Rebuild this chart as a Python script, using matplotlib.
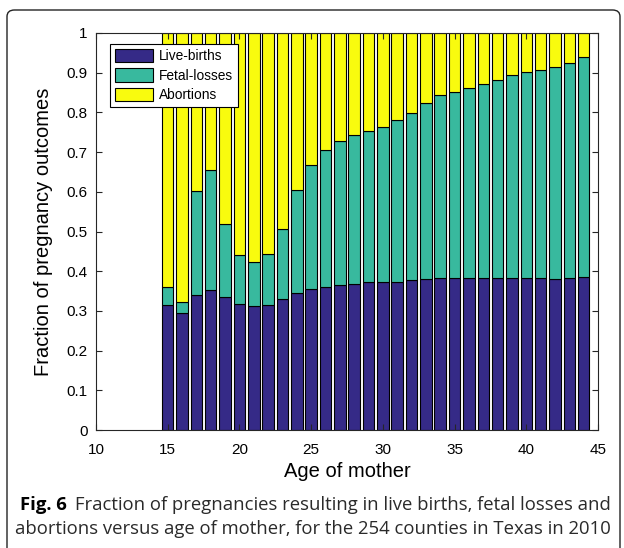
import numpy as np
import matplotlib
matplotlib.use("Agg")
from matplotlib import pyplot as plt
from matplotlib import font_manager
from matplotlib.patches import FancyBboxPatch

ages = list(range(15, 45))
live_births = [0.315, 0.295, 0.340, 0.353, 0.334, 0.317, 0.313, 0.316, 0.330, 0.345,
               0.354, 0.361, 0.365, 0.369, 0.372, 0.372, 0.374, 0.377, 0.380, 0.384,
               0.384, 0.383, 0.383, 0.383, 0.383, 0.383, 0.382, 0.381, 0.382, 0.385]
fetal_losses = [0.046, 0.028, 0.263, 0.302, 0.185, 0.125, 0.109, 0.127, 0.176, 0.259,
                0.313, 0.344, 0.364, 0.374, 0.382, 0.392, 0.407, 0.421, 0.443, 0.460,
                0.467, 0.478, 0.488, 0.499, 0.511, 0.520, 0.525, 0.533, 0.542, 0.555]
abortions = [0.639, 0.677, 0.397, 0.345, 0.481, 0.558, 0.578, 0.557, 0.494, 0.396,
             0.333, 0.295, 0.271, 0.257, 0.246, 0.236, 0.219, 0.202, 0.177, 0.156,
             0.149, 0.139, 0.129, 0.118, 0.106, 0.097, 0.093, 0.086, 0.076, 0.060]
series_names = ["Live-births", "Fetal-losses", "Abortions"]
colors = ["#352a87", "#38b99e", "#f9fb0e"]
xticks = [10, 15, 20, 25, 30, 35, 40, 45]
yticks = [0, 0.1, 0.2, 0.3, 0.4, 0.5, 0.6, 0.7, 0.8, 0.9, 1]
ytick_labels = ["0", "0.1", "0.2", "0.3", "0.4", "0.5", "0.6", "0.7", "0.8", "0.9", "1"]

plt.rcParams['font.family'] = ['Liberation Sans', 'DejaVu Sans']

W, H = 624, 548
fig = plt.figure(figsize=(W / 100, H / 100), dpi=100)

# panel border with rounded corners (runs off the bottom of the image)
border = FancyBboxPatch((7 / W, -0.05), 613 / W, 1.05 - 10 / H,
                        boxstyle="round,pad=0,rounding_size=0.012",
                        transform=fig.transFigure, facecolor="none",
                        edgecolor="#222222", linewidth=1.0, clip_on=False)
fig.patches.append(border)

ax = fig.add_axes([96 / W, 1 - 430 / H, (598 - 96) / W, (430 - 33) / H])

bottom = np.zeros(len(ages))
for name, vals, c in zip(series_names, [live_births, fetal_losses, abortions], colors):
    ax.bar(ages, vals, width=0.8, bottom=bottom, color=c, edgecolor="black",
           linewidth=0.8, label=name)
    bottom += np.array(vals)

ax.set_xlim(10, 45)
ax.set_ylim(0, 1)
ax.set_xticks(xticks)
ax.set_yticks(yticks)
ax.set_yticklabels(ytick_labels)
ax.tick_params(direction="in", top=True, right=True, length=4, width=0.8,
               labelsize=11, colors="#262626", labelcolor="black")
ax.tick_params(axis="x", pad=9)
ax.tick_params(axis="y", pad=6)
for s in ax.spines.values():
    s.set_color("#262626")
    s.set_linewidth(0.8)

ax.set_xlabel("Age of mother", fontsize=14.5, labelpad=4)
ax.set_ylabel("Fraction of pregnancy outcomes", fontsize=14.5, labelpad=10)

leg = ax.legend(loc="upper left", bbox_to_anchor=(0.028, 0.972), fontsize=9.9,
                fancybox=False, edgecolor="black", framealpha=1,
                handlelength=2.8, handleheight=1.1, handletextpad=0.4,
                labelspacing=0.38, borderpad=0.35, borderaxespad=0)
leg.get_frame().set_linewidth(0.8)

# caption
names = {f.name for f in font_manager.fontManager.ttflist}
cap_font = "Liberation Sans Narrow" if "Liberation Sans Narrow" in names else "Open Sans"
cap_size = 12.5 if cap_font == "Liberation Sans Narrow" else 13.3

fig.canvas.draw()
r = fig.canvas.get_renderer()
t1 = fig.text(20 / W, 1 - 510 / H, "Fig. 6", fontsize=cap_size, fontweight="bold",
              family=[cap_font, "DejaVu Sans"], va="baseline")
bb = t1.get_window_extent(r)
fig.text(bb.x1 / W + 8 / W, 1 - 510 / H,
         "Fraction of pregnancies resulting in live births, fetal losses and",
         fontsize=cap_size, family=[cap_font, "DejaVu Sans"], va="baseline", color="#2a2a2a")
fig.text(15 / W, 1 - 534 / H,
         "abortions versus age of mother, for the 254 counties in Texas in 2010",
         fontsize=cap_size, family=[cap_font, "DejaVu Sans"], va="baseline", color="#2a2a2a")

fig.savefig("out.png", dpi=100)
